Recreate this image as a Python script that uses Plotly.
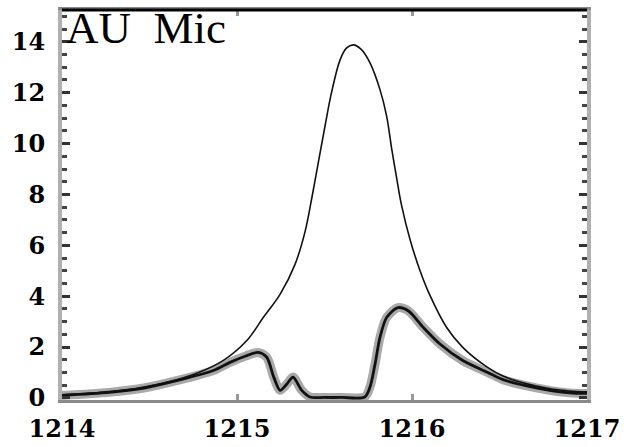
import plotly.graph_objects as go

# Intrinsic (reconstructed) Lyman-alpha profile
intr_x = [1214.00, 1214.27, 1214.46, 1214.655, 1214.77, 1214.92, 1215.055, 1215.15,
          1215.246, 1215.331, 1215.389, 1215.427, 1215.465, 1215.503, 1215.54, 1215.589,
          1215.625, 1215.665, 1215.71, 1215.76, 1215.817, 1215.855, 1215.884, 1215.91,
          1215.94, 1215.99, 1216.046, 1216.10, 1216.198, 1216.29, 1216.43, 1216.52,
          1216.71, 1216.90, 1217.00]
intr_y = [0.12, 0.25, 0.42, 0.72, 0.97, 1.47, 2.25, 3.16,
          4.07, 5.24, 6.54, 7.84, 9.27, 10.69, 12.0, 13.29,
          13.75, 13.88, 13.7, 13.17, 12.12, 11.08, 9.79, 8.74,
          7.58, 6.20, 5.00, 4.07, 2.77, 1.99, 1.21, 0.86,
          0.47, 0.27, 0.24]

# Observed (ISM-attenuated) profile
obs_x = [1214.00, 1214.27, 1214.46, 1214.655, 1214.865, 1214.96, 1215.05, 1215.12,
         1215.17, 1215.21, 1215.246, 1215.285, 1215.32, 1215.37, 1215.417, 1215.5,
         1215.6, 1215.73, 1215.76, 1215.789, 1215.817, 1215.855, 1215.92, 1215.98,
         1216.065, 1216.16, 1216.29, 1216.43, 1216.52, 1216.71, 1216.90, 1217.00]
obs_y = [0.10, 0.22, 0.38, 0.68, 1.08, 1.40, 1.65, 1.79,
         1.60, 0.82, 0.30, 0.55, 0.82, 0.30, 0.04, 0.02,
         0.02, 0.04, 0.43, 1.34, 2.38, 3.16, 3.55, 3.42,
         2.77, 2.12, 1.47, 1.01, 0.72, 0.40, 0.20, 0.18]

x_ticks = [1214, 1215, 1216, 1217]
y_ticks = [0, 2, 4, 6, 8, 10, 12, 14]
label = "AU\u00a0\u00a0Mic"

fig = go.Figure()
fig.add_trace(go.Scatter(x=obs_x, y=obs_y, mode="lines",
                         line=dict(color="rgba(140,140,140,0.75)", width=9, shape="spline", smoothing=0.8),
                         hoverinfo="skip", showlegend=False))
fig.add_trace(go.Scatter(x=obs_x, y=obs_y, mode="lines",
                         line=dict(color="#111111", width=2.8, shape="spline", smoothing=0.8),
                         showlegend=False))
fig.add_trace(go.Scatter(x=intr_x, y=intr_y, mode="lines",
                         line=dict(color="#111111", width=1.6, shape="spline", smoothing=1.0),
                         showlegend=False))

serif = "DejaVu Serif"
fig.update_layout(
    width=631, height=447,
    margin=dict(l=62, r=44, t=10, b=47, autoexpand=False),
    plot_bgcolor="white", paper_bgcolor="white",
    showlegend=False,
    xaxis=dict(range=[1214, 1217], tickvals=x_ticks, ticktext=[str(v) for v in x_ticks],
               ticks="inside", ticklen=6, tickwidth=3, tickcolor="#999999",
               showline=True, linecolor="#8a8a8a", linewidth=3, mirror="ticks",
               showgrid=False, zeroline=False, automargin=False,
               tickfont=dict(family=serif, size=24, color="black", weight="bold"),
               ticklabelstandoff=5),
    yaxis=dict(range=[-0.08, 15.25], tickvals=y_ticks, ticktext=[str(v) for v in y_ticks],
               ticks="inside", ticklen=8, tickwidth=3, tickcolor="#333333",
               minor=dict(dtick=0.5, ticks="inside", ticklen=5, tickwidth=3, tickcolor="#444444"),
               showline=True, linecolor="#b0b0b0", linewidth=4, mirror="ticks",
               showgrid=False, zeroline=False, automargin=False,
               tickfont=dict(family=serif, size=24, color="black", weight="bold"),
               ticklabelstandoff=8),
    shapes=[dict(type="line", xref="paper", yref="paper", x0=0, x1=1, y0=1, y1=1,
                 line=dict(color="black", width=3))],
    annotations=[dict(text=label, xref="paper", yref="paper", x=0.005, y=1.02,
                      xanchor="left", yanchor="top", showarrow=False, borderpad=0,
                      font=dict(family="Liberation Serif", size=45, color="black"))],
)

fig.write_html("out.html")
